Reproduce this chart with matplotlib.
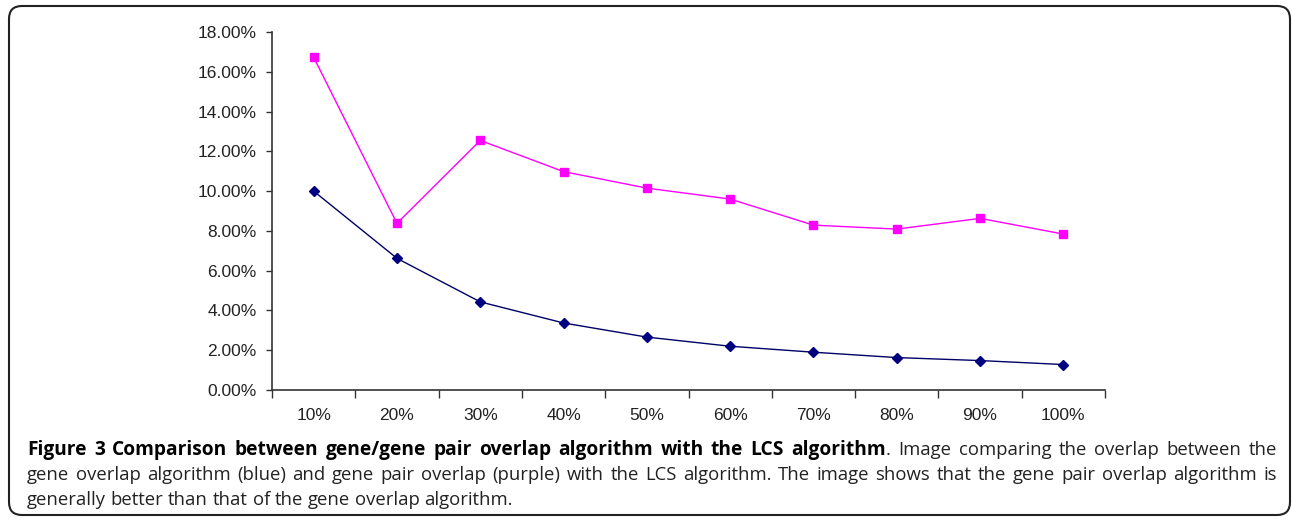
import numpy as np
import matplotlib.pyplot as plt
from matplotlib.patches import FancyBboxPatch
from matplotlib.ticker import FuncFormatter, FixedLocator

categories = ['10%', '20%', '30%', '40%', '50%', '60%', '70%', '80%', '90%', '100%']
gene_overlap = [10.0, 6.62, 4.43, 3.37, 2.66, 2.20, 1.90, 1.63, 1.48, 1.28]
gene_pair_overlap = [16.73, 8.38, 12.55, 10.98, 10.15, 9.60, 8.29, 8.09, 8.63, 7.84]
yticks = [0, 2, 4, 6, 8, 10, 12, 14, 16, 18]

caption_bold = 'Figure 3 Comparison between gene/gene pair overlap algorithm with the LCS algorithm'
caption_lines = [
    '. Image comparing the overlap between the',
    'gene overlap algorithm (blue) and gene pair overlap (purple) with the LCS algorithm. The image shows that the gene pair overlap algorithm is',
    'generally better than that of the gene overlap algorithm.',
]

W, H = 1292, 520
fig = plt.figure(figsize=(W / 100, H / 100), dpi=100)

# rounded frame round the whole figure
frame = FancyBboxPatch((9 / W, 5 / H), 1281 / W, 509 / H,
                       boxstyle='round,pad=0,rounding_size=0.01',
                       transform=fig.transFigure, fill=False, edgecolor='#222222', linewidth=1.5,
                       mutation_aspect=W / H)
fig.patches.append(frame)

ax = fig.add_axes([272 / W, 1 - 390 / H, 833 / W, 358 / H])
x = np.arange(len(categories))
ax.plot(x, gene_overlap, '-D', color='#000066', markerfacecolor='#000080', markeredgecolor='#000080',
        linewidth=1, markersize=5.5)
ax.plot(x, gene_pair_overlap, '-s', color='#FF00FF', linewidth=1, markersize=6)

ax.set_xlim(-0.5, len(categories) - 0.5)
ax.set_ylim(0, 18)
ax.set_yticks(yticks)
ax.yaxis.set_major_formatter(FuncFormatter(lambda v, p: '%.2f%%' % v))
ax.set_xticks(x)
ax.set_xticklabels(categories)
ax.xaxis.set_minor_locator(FixedLocator(np.arange(-0.5, len(categories), 1.0)))
ax.tick_params(axis='x', which='major', length=0, pad=13)
ax.tick_params(axis='x', which='minor', length=6, width=1, direction='out', color='#333333')
ax.tick_params(axis='y', length=4, width=1, direction='out', color='#333333', pad=7)
for lab in ax.get_xticklabels() + ax.get_yticklabels():
    lab.set_fontfamily('Liberation Sans')
    lab.set_fontsize(12.5)
    lab.set_color('#222222')
for s in ['top', 'right']:
    ax.spines[s].set_visible(False)
for s in ['left', 'bottom']:
    ax.spines[s].set_color('#333333')
    ax.spines[s].set_linewidth(1.2)

# caption, drawn word by word so lines 1 and 2 are justified
left, right = 27, 1277
fs_b, fs_r = 13.8, 13.3
renderer = fig.canvas.get_renderer()


def word_width(s, bold, fs):
    t = fig.text(0, 0, s, fontfamily='Open Sans', fontweight='bold' if bold else 'normal', fontsize=fs)
    w = t.get_window_extent(renderer).width
    t.remove()
    return w


def put_line(words, ybase, justify):
    # words: list of (text, bold, glue_to_previous)
    widths = [word_width(w, b, fs_b if b else fs_r) for w, b, g in words]
    space = word_width('a a', False, fs_r) - word_width('aa', False, fs_r)
    ngaps = sum(1 for i, (w, b, g) in enumerate(words) if i > 0 and not g)
    natural = sum(widths) + ngaps * space
    if justify and ngaps:
        space += (right - left - natural) / ngaps
    xpos = left
    for i, (w, b, g) in enumerate(words):
        if i > 0 and not g:
            xpos += space
        fig.text(xpos / W, 1 - ybase / H, w, fontfamily='Open Sans',
                 fontweight='bold' if b else 'normal', fontsize=fs_b if b else fs_r,
                 color='black' if b else '#222222', va='baseline', ha='left')
        xpos += widths[i]


line1 = [(w, True, False) for w in caption_bold.split()]
rest = caption_lines[0].split()
line1.append((rest[0], False, True))
line1 += [(w, False, False) for w in rest[1:]]
put_line(line1, 455, True)
put_line([(w, False, False) for w in caption_lines[1].split()], 480, True)
put_line([(w, False, False) for w in caption_lines[2].split()], 505, False)

fig.savefig('out.png', dpi=100)
